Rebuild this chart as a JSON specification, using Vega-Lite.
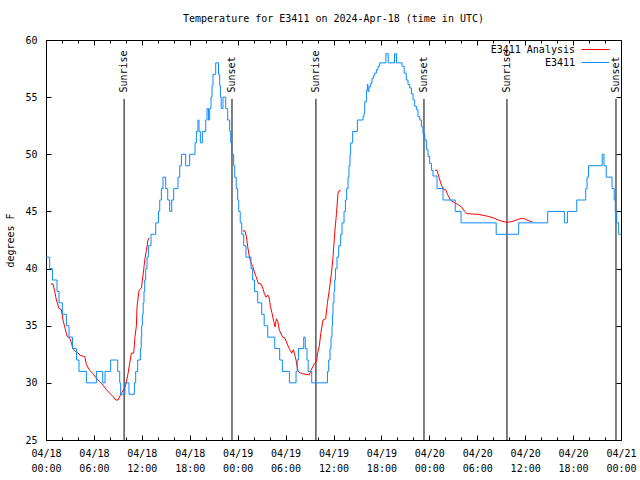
{
  "$schema": "https://vega.github.io/schema/vega-lite/v6.json",
  "width": 575,
  "height": 400,
  "autosize": {"type": "none"},
  "padding": {"left": 46, "top": 40, "right": 19, "bottom": 40},
  "background": "white",
  "title": {"text": "Temperature for E3411 on 2024-Apr-18 (time in UTC)", "fontSize": 10, "fontWeight": "normal", "font": "DejaVu Sans Mono", "color": "black", "offset": 11, "anchor": "middle"},
  "config": {
    "font": "DejaVu Sans Mono",
    "view": {"stroke": "black", "strokeWidth": 1},
    "axis": {"labelFont": "DejaVu Sans Mono", "labelFontSize": 10, "labelColor": "black", "tickColor": "black", "tickWidth": 1, "domain": false, "grid": false, "titleFont": "DejaVu Sans Mono", "titleFontSize": 10, "titleFontWeight": "normal", "titleColor": "black"}
  },
  "datasets": {
    "events": [
      {"h": 9.78, "event": "Sunrise"},
      {"h": 23.29, "event": "Sunset"},
      {"h": 33.80, "event": "Sunrise"},
      {"h": 47.33, "event": "Sunset"},
      {"h": 57.72, "event": "Sunrise"},
      {"h": 71.37, "event": "Sunset"}
    ],
    "obs": [
      {"h":0,"t":41},{"h":0.46,"t":40},{"h":0.80,"t":39},{"h":1.38,"t":38},{"h":1.63,"t":37},{"h":2.05,"t":36},{"h":2.55,"t":35},{"h":2.88,"t":34},{"h":3.31,"t":33},{"h":3.81,"t":32},{"h":4.13,"t":31},{"h":5.06,"t":30},{"h":6.31,"t":31},{"h":7.10,"t":30},{"h":7.39,"t":31},{"h":8.10,"t":32},{"h":8.98,"t":31},{"h":9.23,"t":30},{"h":9.35,"t":29},{"h":9.89,"t":30},{"h":10.39,"t":29},{"h":11.07,"t":30},{"h":11.23,"t":31},{"h":11.48,"t":32},{"h":11.82,"t":33},{"h":11.92,"t":34},{"h":11.98,"t":35},{"h":12.07,"t":36},{"h":12.17,"t":37},{"h":12.27,"t":38},{"h":12.36,"t":39},{"h":12.48,"t":40},{"h":12.65,"t":41},{"h":12.82,"t":42},{"h":13.15,"t":43},{"h":13.74,"t":44},{"h":14.08,"t":45},{"h":14.24,"t":46},{"h":14.45,"t":47},{"h":14.65,"t":48},{"h":14.99,"t":47},{"h":15.24,"t":46},{"h":15.49,"t":45},{"h":15.74,"t":46},{"h":15.99,"t":47},{"h":16.53,"t":48},{"h":16.74,"t":49},{"h":16.96,"t":50},{"h":17.49,"t":49},{"h":17.99,"t":50},{"h":18.66,"t":51},{"h":18.83,"t":52},{"h":19.03,"t":53},{"h":19.16,"t":52},{"h":19.33,"t":51},{"h":19.58,"t":52},{"h":20.0,"t":53},{"h":20.16,"t":54},{"h":20.34,"t":53},{"h":20.50,"t":54},{"h":20.66,"t":55},{"h":20.79,"t":56},{"h":20.91,"t":57},{"h":21.25,"t":58},{"h":21.60,"t":57},{"h":21.75,"t":56},{"h":21.84,"t":55},{"h":21.94,"t":54},{"h":22.16,"t":55},{"h":22.50,"t":54},{"h":22.75,"t":53},{"h":23.00,"t":52},{"h":23.13,"t":51},{"h":23.25,"t":50},{"h":23.50,"t":49},{"h":23.63,"t":48},{"h":23.82,"t":47},{"h":24.00,"t":46},{"h":24.13,"t":45},{"h":24.32,"t":44},{"h":24.51,"t":43},{"h":24.76,"t":42},{"h":25.04,"t":41},{"h":25.67,"t":40},{"h":25.88,"t":39},{"h":26.10,"t":38},{"h":26.51,"t":37},{"h":27.01,"t":36},{"h":27.32,"t":35},{"h":27.76,"t":34},{"h":28.64,"t":33},{"h":29.26,"t":32},{"h":29.60,"t":31},{"h":30.48,"t":30},{"h":31.31,"t":31},{"h":31.46,"t":32},{"h":31.61,"t":33},{"h":32.27,"t":34},{"h":32.46,"t":33},{"h":32.68,"t":32},{"h":32.83,"t":31},{"h":33.27,"t":30},{"h":35.24,"t":31},{"h":35.40,"t":32},{"h":35.56,"t":33},{"h":35.69,"t":34},{"h":35.81,"t":35},{"h":35.88,"t":36},{"h":35.94,"t":37},{"h":36.06,"t":38},{"h":36.15,"t":39},{"h":36.24,"t":40},{"h":36.44,"t":41},{"h":36.65,"t":42},{"h":36.90,"t":43},{"h":37.07,"t":44},{"h":37.32,"t":45},{"h":37.49,"t":46},{"h":37.65,"t":47},{"h":37.82,"t":48},{"h":37.94,"t":49},{"h":38.07,"t":50},{"h":38.15,"t":51},{"h":38.40,"t":52},{"h":38.99,"t":53},{"h":39.70,"t":53.3},{"h":39.82,"t":53.6},{"h":39.91,"t":54.6},{"h":40.12,"t":55.6},{"h":40.24,"t":56.1},{"h":40.32,"t":55.5},{"h":40.45,"t":55.9},{"h":40.66,"t":56.2},{"h":40.82,"t":56.65},{"h":41.00,"t":56.9},{"h":41.16,"t":57.1},{"h":41.37,"t":57.4},{"h":41.57,"t":57.7},{"h":41.79,"t":58},{"h":42.56,"t":58.8},{"h":42.85,"t":58},{"h":43.64,"t":58.8},{"h":43.89,"t":58},{"h":44.58,"t":57.7},{"h":44.85,"t":57.1},{"h":45.11,"t":56.5},{"h":45.33,"t":56.1},{"h":45.54,"t":55.8},{"h":45.76,"t":55.3},{"h":45.96,"t":54.75},{"h":46.17,"t":54.2},{"h":46.38,"t":53.9},{"h":46.58,"t":53.3},{"h":46.80,"t":53.0},{"h":47.01,"t":52.4},{"h":47.21,"t":51.8},{"h":47.42,"t":51.25},{"h":47.63,"t":50.4},{"h":47.84,"t":49.8},{"h":48.05,"t":49.2},{"h":48.26,"t":48.6},{"h":48.46,"t":48.1},{"h":48.96,"t":47},{"h":49.71,"t":46},{"h":51.24,"t":45},{"h":51.97,"t":44},{"h":56.37,"t":43},{"h":59.19,"t":44},{"h":62.82,"t":45},{"h":64.91,"t":44},{"h":65.29,"t":45},{"h":66.46,"t":46},{"h":67.58,"t":47},{"h":67.75,"t":48},{"h":67.93,"t":49},{"h":69.65,"t":50},{"h":69.87,"t":49},{"h":70.15,"t":48},{"h":70.88,"t":47},{"h":71.15,"t":46},{"h":71.28,"t":45},{"h":71.46,"t":44},{"h":71.71,"t":43},{"h":71.97,"t":43}
    ],
    "analysis": [
      {"h":0.59,"t":38.65,"seg":1},{"h":0.88,"t":38.65,"seg":1},{"h":1.09,"t":38.0,"seg":1},{"h":1.30,"t":37.25,"seg":1},{"h":1.63,"t":36.5,"seg":1},{"h":1.93,"t":36.4,"seg":1},{"h":2.13,"t":35.5,"seg":1},{"h":2.34,"t":34.9,"seg":1},{"h":2.63,"t":34.1,"seg":1},{"h":2.97,"t":33.9,"seg":1},{"h":3.18,"t":33.5,"seg":1},{"h":3.38,"t":33.0,"seg":1},{"h":3.59,"t":32.8,"seg":1},{"h":4.01,"t":32.6,"seg":1},{"h":4.31,"t":32.4,"seg":1},{"h":4.85,"t":32.3,"seg":1},{"h":5.06,"t":31.6,"seg":1},{"h":5.47,"t":31.1,"seg":1},{"h":5.89,"t":30.8,"seg":1},{"h":6.31,"t":30.4,"seg":1},{"h":6.72,"t":30.1,"seg":1},{"h":7.14,"t":29.8,"seg":1},{"h":7.56,"t":29.4,"seg":1},{"h":7.98,"t":29.1,"seg":1},{"h":8.39,"t":28.8,"seg":1},{"h":8.73,"t":28.5,"seg":1},{"h":9.02,"t":28.5,"seg":1},{"h":9.44,"t":29.1,"seg":1},{"h":9.73,"t":29.4,"seg":1},{"h":9.98,"t":29.8,"seg":1},{"h":10.27,"t":30.8,"seg":1},{"h":10.48,"t":31.7,"seg":1},{"h":10.69,"t":32.6,"seg":1},{"h":10.98,"t":32.6,"seg":1},{"h":11.14,"t":34.0,"seg":1},{"h":11.32,"t":35.0,"seg":1},{"h":11.40,"t":36.7,"seg":1},{"h":11.65,"t":38.1,"seg":1},{"h":11.95,"t":38.3,"seg":1},{"h":12.07,"t":39.0,"seg":1},{"h":12.23,"t":39.9,"seg":1},{"h":12.40,"t":40.9,"seg":1},{"h":12.57,"t":41.6,"seg":1},{"h":12.77,"t":42.5,"seg":1},{"h":12.92,"t":42.7,"seg":1},
      {"h":24.63,"t":43.3,"seg":2},{"h":24.92,"t":43.3,"seg":2},{"h":25.09,"t":42.8,"seg":2},{"h":25.26,"t":41.9,"seg":2},{"h":25.47,"t":41.0,"seg":2},{"h":25.67,"t":40.5,"seg":2},{"h":25.88,"t":40.2,"seg":2},{"h":26.10,"t":39.7,"seg":2},{"h":26.30,"t":39.3,"seg":2},{"h":26.60,"t":38.7,"seg":2},{"h":26.92,"t":38.65,"seg":2},{"h":27.14,"t":38.3,"seg":2},{"h":27.35,"t":37.8,"seg":2},{"h":27.55,"t":37.5,"seg":2},{"h":27.76,"t":37.7,"seg":2},{"h":27.92,"t":37.5,"seg":2},{"h":28.10,"t":36.7,"seg":2},{"h":28.30,"t":36.1,"seg":2},{"h":28.51,"t":35.4,"seg":2},{"h":28.68,"t":34.9,"seg":2},{"h":28.85,"t":35.6,"seg":2},{"h":29.01,"t":35.4,"seg":2},{"h":29.23,"t":34.6,"seg":2},{"h":29.64,"t":34.0,"seg":2},{"h":29.93,"t":33.9,"seg":2},{"h":30.27,"t":33.3,"seg":2},{"h":30.52,"t":32.9,"seg":2},{"h":30.77,"t":32.6,"seg":2},{"h":30.98,"t":32.9,"seg":2},{"h":31.10,"t":32.6,"seg":2},{"h":31.31,"t":32.0,"seg":2},{"h":31.52,"t":31.1,"seg":2},{"h":31.73,"t":30.9,"seg":2},{"h":32.14,"t":30.8,"seg":2},{"h":32.56,"t":30.75,"seg":2},{"h":32.98,"t":30.7,"seg":2},{"h":33.18,"t":31.1,"seg":2},{"h":33.40,"t":31.4,"seg":2},{"h":33.61,"t":31.7,"seg":2},{"h":33.86,"t":31.85,"seg":2},{"h":34.02,"t":32.6,"seg":2},{"h":34.24,"t":33.3,"seg":2},{"h":34.40,"t":34.3,"seg":2},{"h":34.69,"t":35.5,"seg":2},{"h":35.02,"t":35.6,"seg":2},{"h":35.24,"t":37.0,"seg":2},{"h":35.53,"t":38.4,"seg":2},{"h":35.74,"t":39.6,"seg":2},{"h":35.94,"t":41.0,"seg":2},{"h":36.15,"t":43.1,"seg":2},{"h":36.37,"t":44.8,"seg":2},{"h":36.56,"t":46.6,"seg":2},{"h":36.69,"t":46.8,"seg":2},{"h":36.90,"t":46.8,"seg":2},
      {"h":48.71,"t":48.6,"seg":3},{"h":48.96,"t":48.6,"seg":3},{"h":49.21,"t":48.0,"seg":3},{"h":49.51,"t":47.3,"seg":3},{"h":49.84,"t":46.9,"seg":3},{"h":50.05,"t":46.9,"seg":3},{"h":50.34,"t":46.4,"seg":3},{"h":50.64,"t":46.0,"seg":3},{"h":51.05,"t":45.8,"seg":3},{"h":51.59,"t":45.6,"seg":3},{"h":52.02,"t":45.4,"seg":3},{"h":52.43,"t":45.0,"seg":3},{"h":52.72,"t":44.8,"seg":3},{"h":54.10,"t":44.75,"seg":3},{"h":55.15,"t":44.6,"seg":3},{"h":55.97,"t":44.45,"seg":3},{"h":56.81,"t":44.2,"seg":3},{"h":57.65,"t":44.05,"seg":3},{"h":58.28,"t":44.1,"seg":3},{"h":58.90,"t":44.25,"seg":3},{"h":59.53,"t":44.4,"seg":3},{"h":59.94,"t":44.35,"seg":3},{"h":60.36,"t":44.2,"seg":3},{"h":60.91,"t":44.1,"seg":3}
    ]
  },
  "resolve": {"axis": {"x": "independent", "y": "independent"}},
  "layer": [
    {
      "data": {"name": "events"},
      "mark": {"type": "rule", "color": "black", "strokeWidth": 1},
      "encoding": {
        "x": {"field": "h", "type": "quantitative", "scale": {"domain": [0, 72], "nice": false, "zero": false},
              "axis": {"orient": "bottom", "values": [0, 6, 12, 18, 24, 30, 36, 42, 48, 54, 60, 66, 72], "tickSize": -5, "labelPadding": 13, "title": null, "labelFlush": false, "labelOverlap": false, "labelLineHeight": 15,
                       "labelExpr": "['04/' + (18 + floor(datum.value / 24)), ((datum.value % 24) < 10 ? '0' : '') + (datum.value % 24) + ':00']"}},
        "y": {"datum": 25, "type": "quantitative", "axis": null},
        "y2": {"datum": 54.85}
      }
    },
    {
      "data": {"name": "events"},
      "mark": {"type": "text", "angle": 270, "align": "left", "baseline": "middle", "font": "DejaVu Sans Mono", "fontSize": 10, "color": "black"},
      "encoding": {
        "x": {"field": "h", "type": "quantitative", "axis": {"orient": "top", "values": [0, 6, 12, 18, 24, 30, 36, 42, 48, 54, 60, 66, 72], "tickSize": -5, "labels": false, "title": null}},
        "y": {"datum": 55.4, "type": "quantitative", "axis": null},
        "text": {"field": "event"}
      }
    },
    {
      "data": {"name": "analysis"},
      "mark": {"type": "line", "strokeWidth": 1, "interpolate": "linear"},
      "encoding": {
        "x": {"field": "h", "type": "quantitative", "axis": {"orient": "top", "values": [2, 4, 8, 10, 14, 16, 20, 22, 26, 28, 32, 34, 38, 40, 44, 46, 50, 52, 56, 58, 62, 64, 68, 70], "tickSize": -3, "labels": false, "title": null}},
        "y": {"field": "t", "type": "quantitative", "axis": {"orient": "right", "values": [25, 30, 35, 40, 45, 50, 55, 60], "tickSize": -5, "labels": false, "title": null}},
        "detail": {"field": "seg"},
        "color": {"datum": "E3411 Analysis", "type": "nominal",
                  "scale": {"domain": ["E3411 Analysis", "E3411"], "range": ["#ff0000", "#0a8aff"]},
                  "legend": {"orient": "none", "legendX": 542, "legendY": 2, "title": null, "symbolType": "M-2,0H2", "symbolSize": 196, "symbolStrokeWidth": 1, "labelAlign": "right", "labelOffset": -28, "labelFontSize": 10, "labelFont": "DejaVu Sans Mono", "labelColor": "black", "rowPadding": 0}}
      }
    },
    {
      "data": {"name": "obs"},
      "mark": {"type": "line", "strokeWidth": 1, "interpolate": "step-after"},
      "encoding": {
        "x": {"field": "h", "type": "quantitative", "axis": {"orient": "bottom", "values": [2, 4, 8, 10, 14, 16, 20, 22, 26, 28, 32, 34, 38, 40, 44, 46, 50, 52, 56, 58, 62, 64, 68, 70], "tickSize": -3, "labels": false, "title": null}},
        "y": {"field": "t", "type": "quantitative", "scale": {"domain": [25, 60], "nice": false, "zero": false},
              "axis": {"orient": "left", "values": [25, 30, 35, 40, 45, 50, 55, 60], "tickSize": -5, "labelPadding": 14, "title": "degrees F", "titlePadding": 9}},
        "color": {"datum": "E3411", "type": "nominal"}
      }
    }
  ]
}
